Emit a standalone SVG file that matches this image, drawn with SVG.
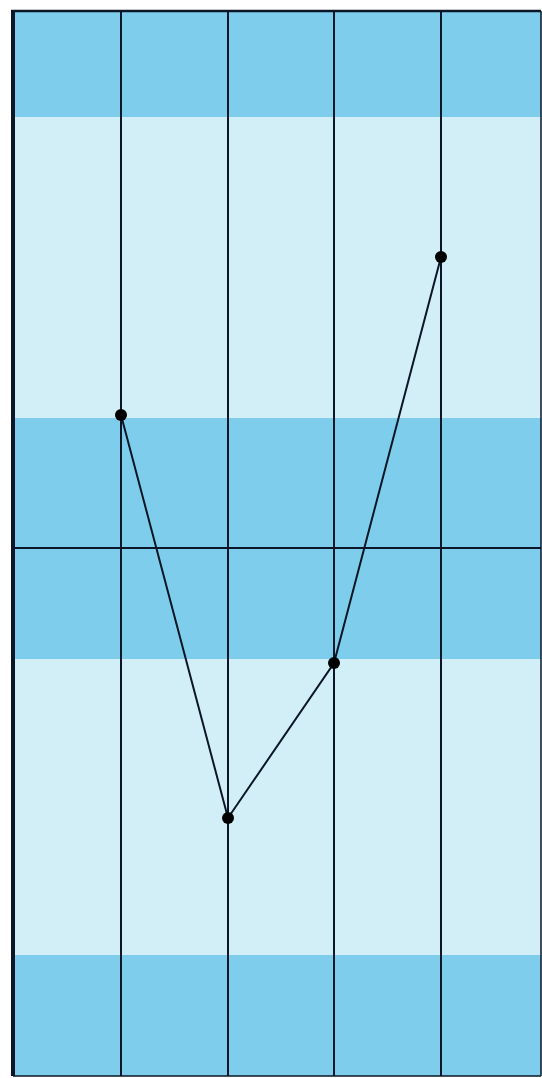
<svg xmlns="http://www.w3.org/2000/svg" width="542" height="1078" viewBox="0 0 542 1078">
<style>
.dark{fill:#7ecdec}
.light{fill:#d2eff8}
.grid{stroke:#0b1626;stroke-width:2;fill:none}
.edge{stroke:#0b1626;stroke-width:2;fill:none}
.pt{fill:#000000}
</style>
<rect x="0" y="0" width="542" height="1078" fill="#ffffff"/>
<g id="bands">
<rect class="dark" x="13" y="11" width="528" height="106"/>
<rect class="light" x="13" y="117" width="528" height="301"/>
<rect class="dark" x="13" y="418" width="528" height="241"/>
<rect class="light" x="13" y="659" width="528" height="296"/>
<rect class="dark" x="13" y="955" width="528" height="121"/>
</g>
<g id="grid" class="grid">
<line x1="121" y1="11" x2="121" y2="1076"/>
<line x1="228" y1="11" x2="228" y2="1076"/>
<line x1="334" y1="11" x2="334" y2="1076"/>
<line x1="441" y1="11" x2="441" y2="1076"/>
<line x1="13" y1="548" x2="541" y2="548"/>
<line x1="13" y1="1076" x2="541" y2="1076" stroke-width="1.5"/>
<line x1="541" y1="11" x2="541" y2="1076" stroke-width="1.5"/>
<line x1="11" y1="11" x2="541" y2="11" stroke-width="2.5"/>
<line x1="13" y1="10" x2="13" y2="1076" stroke-width="4"/>
</g>
<g id="connectors" class="edge">
<polyline points="121,415 228,818 334,663 441,257"/>
</g>
<g id="p1"><circle class="pt" cx="121" cy="415" r="6"/></g>
<g id="p2"><circle class="pt" cx="228" cy="818" r="6"/></g>
<g id="p3"><circle class="pt" cx="334" cy="663" r="6"/></g>
<g id="p4"><circle class="pt" cx="441" cy="257" r="6"/></g>
</svg>
